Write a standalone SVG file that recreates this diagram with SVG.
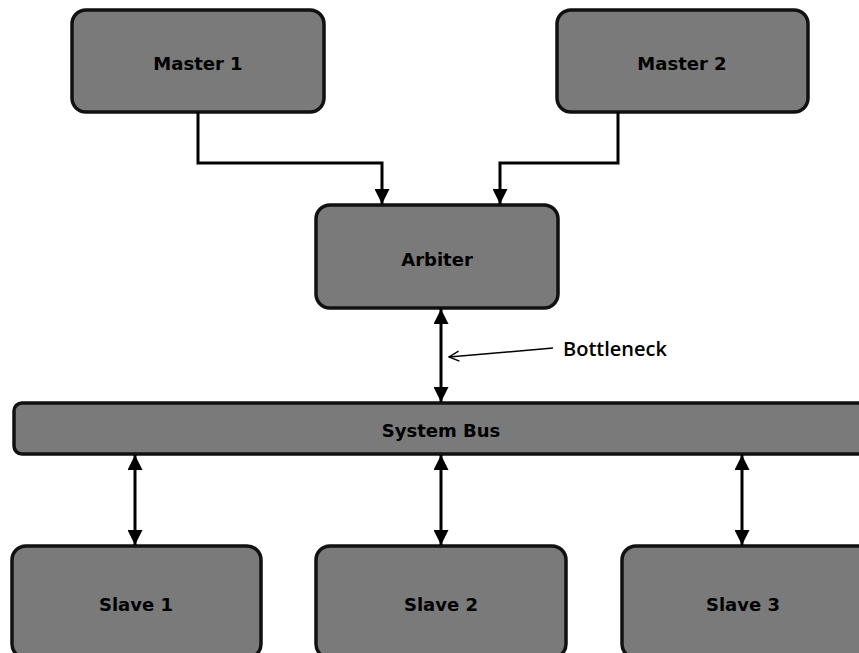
<svg xmlns="http://www.w3.org/2000/svg" width="859" height="653" viewBox="0 0 859 653">
<style>
.box{fill:#7a7a7a;stroke:#111;stroke-width:3.5}
.lbl{font-family:"DejaVu Sans",Verdana,sans-serif;font-weight:bold;font-size:18px;fill:#000;text-anchor:middle;dominant-baseline:central}
.ln{fill:none;stroke:#000;stroke-width:3}
.thin{fill:none;stroke:#000;stroke-width:1.5}
</style>
<defs>
<marker id="ah" viewBox="0 0 10 10" refX="10" refY="5" markerWidth="5" markerHeight="5" orient="auto-start-reverse" markerUnits="strokeWidth">
<path d="M0,0 L10,5 L0,10 z" fill="#000"/>
</marker>
<marker id="oa" viewBox="0 0 12 12" refX="11" refY="6" markerWidth="8" markerHeight="8" orient="auto" markerUnits="strokeWidth">
<path d="M1,1 L11,6 L1,11" fill="none" stroke="#000" stroke-width="1.4"/>
</marker>
</defs>
<g id="master1"><rect class="box" x="72" y="10" width="252" height="102" rx="14"/><text class="lbl" x="198" y="63">Master 1</text></g>
<g id="master2"><rect class="box" x="557" y="10" width="251" height="102" rx="14"/><text class="lbl" x="682" y="63">Master 2</text></g>
<g id="arbiter"><rect class="box" x="316" y="205" width="242" height="103" rx="14"/><text class="lbl" x="437" y="259">Arbiter</text></g>
<g id="systembus"><rect class="box" x="14" y="403" width="860" height="51" rx="8"/><text class="lbl" x="441" y="430">System Bus</text></g>
<g id="slave1"><rect class="box" x="12" y="546" width="249" height="112" rx="14"/><text class="lbl" x="136" y="604">Slave 1</text></g>
<g id="slave2"><rect class="box" x="316" y="546" width="250" height="112" rx="14"/><text class="lbl" x="441" y="604">Slave 2</text></g>
<g id="slave3"><rect class="box" x="622" y="546" width="250" height="112" rx="14"/><text class="lbl" x="743" y="604">Slave 3</text></g>
<g id="bottleneck-label"><text x="563" y="356" font-family="'Open Sans',sans-serif" font-weight="600" font-size="20" fill="#000">Bottleneck</text></g>
<g id="connectors">
<path class="ln" d="M198,112 V163 H382 V204" marker-end="url(#ah)"/>
<path class="ln" d="M618,112 V163 H500 V204" marker-end="url(#ah)"/>
<path class="ln" d="M441,309 V402" marker-start="url(#ah)" marker-end="url(#ah)"/>
<path class="ln" d="M135,455 V545" marker-start="url(#ah)" marker-end="url(#ah)"/>
<path class="ln" d="M441,455 V545" marker-start="url(#ah)" marker-end="url(#ah)"/>
<path class="ln" d="M742,455 V545" marker-start="url(#ah)" marker-end="url(#ah)"/>
<path class="thin" d="M553,348 L449,357" marker-end="url(#oa)"/>
</g>
</svg>
